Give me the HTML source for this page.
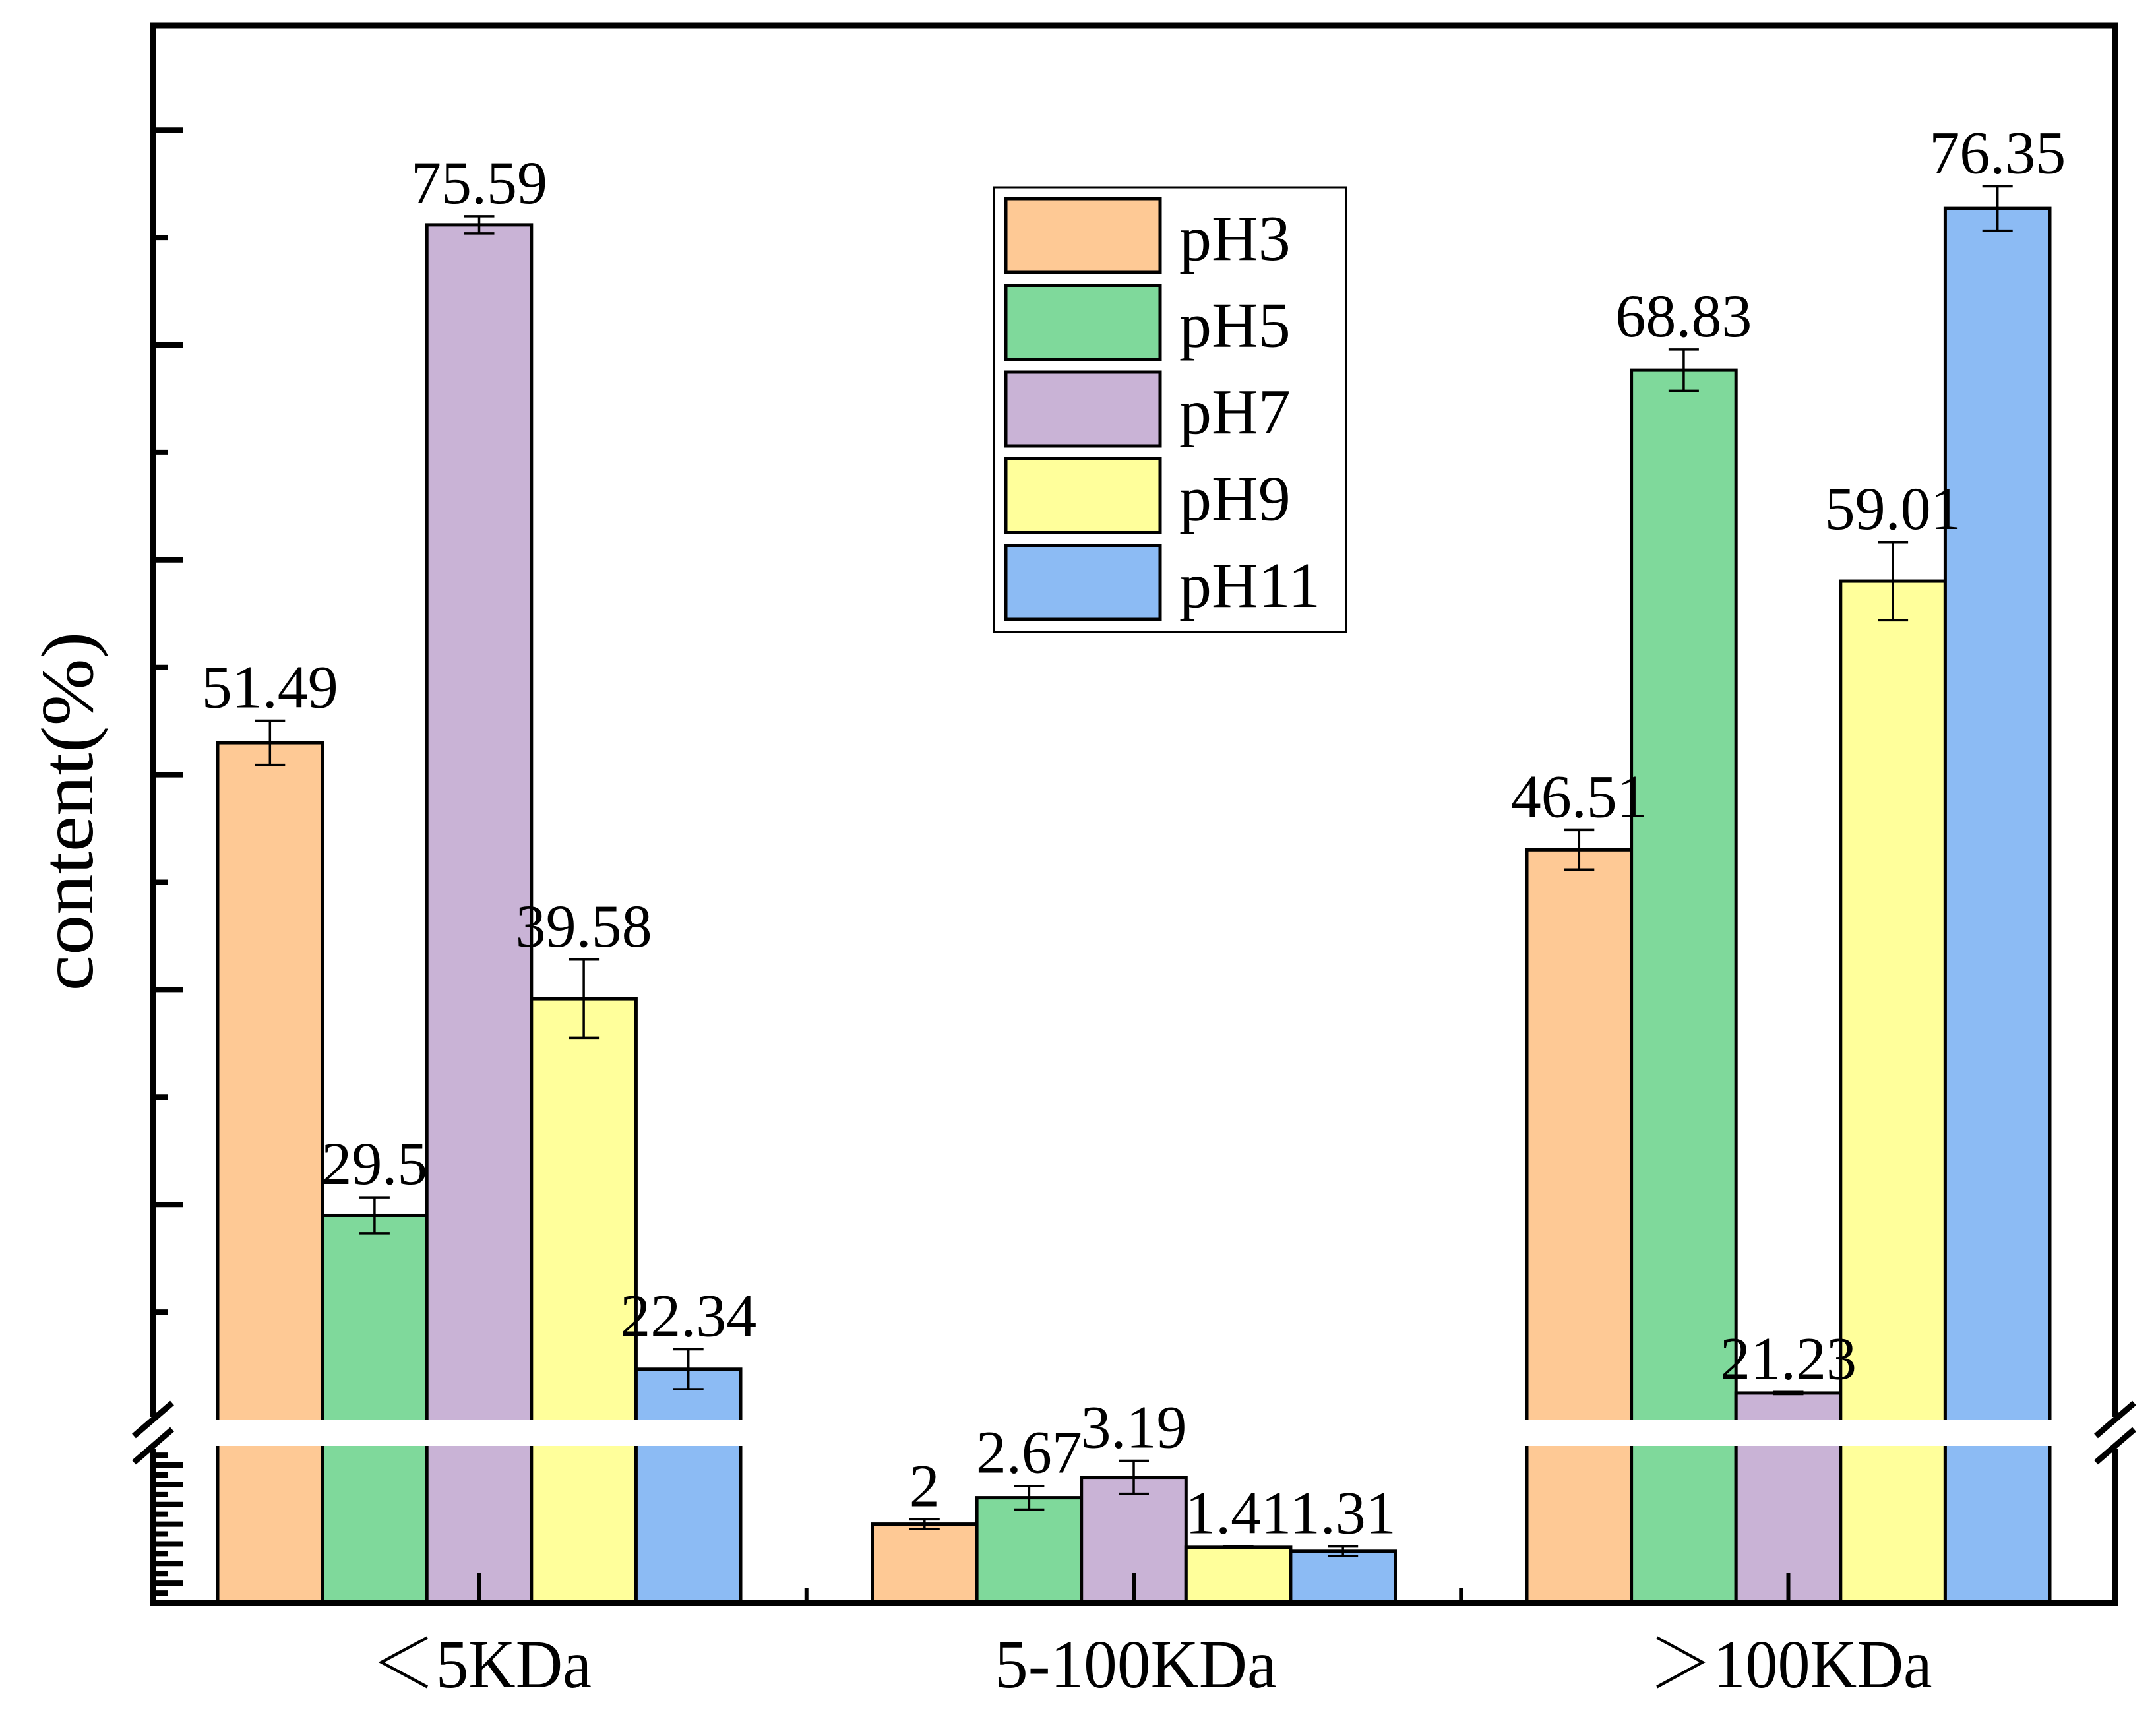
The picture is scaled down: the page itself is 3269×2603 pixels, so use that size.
<!DOCTYPE html>
<html>
<head>
<meta charset="utf-8">
<style>
html,body{margin:0;padding:0;background:#fff;}
svg{display:block;}
text{font-family:"Liberation Serif","Noto Serif CJK SC",serif;fill:#000;}
</style>
</head>
<body>
<svg id="chart" xmlns="http://www.w3.org/2000/svg" width="3269" height="2603" viewBox="0 0 3269 2603">
<rect x="0" y="0" width="3269" height="2603" fill="#fff"/>
<g id="bars"></g>
<g id="axes"></g>
<g id="labels"></g>
<text transform="translate(140,1230) rotate(-90)" text-anchor="middle" font-size="112" textLength="545" lengthAdjust="spacingAndGlyphs">content(%)</text>
<g id="legend"></g>
</svg>
<script>
const categories = ["\uFF1C5KDa", "5-100KDa", "\uFF1E100KDa"];
const seriesNames = ["pH3", "pH5", "pH7", "pH9", "pH11"];
const seriesColors = ["#FEC995", "#7FD99B", "#C9B3D6", "#FFFF9B", "#8CBBF4"];
const pH3 = [51.49, 2, 46.51];
const pH5 = [29.5, 2.67, 68.83];
const pH7 = [75.59, 3.19, 21.23];
const pH9 = [39.58, 1.41, 59.01];
const pH11 = [22.34, 1.31, 76.35];
const err3 = [1.03, 0.12, 0.92];
const err5 = [0.84, 0.3, 0.96];
const err7 = [0.4, 0.42, 0.05];
const err9 = [1.82, 0.02, 1.82];
const err11 = [0.93, 0.12, 1.03];
const upperTicks = [25,30,35,40,45,50,55,60,65,70,75,80];
const lowerTicks = [0.25,0.5,0.75,1,1.25,1.5,1.75,2,2.25,2.5,2.75,3,3.25,3.5,3.75];

const values = [pH3, pH5, pH7, pH9, pH11];
const errors = [err3, err5, err7, err9, err11];
const NS = "http://www.w3.org/2000/svg";
const L = 232, R = 3207, T = 39, B = 2430;
const breakTop = 2152, breakBot = 2192, breakVal = 4, upperMin = 20;
function yUpper(v){ return 2803.6 - 32.58 * v; }
function yLower(v){ return B - 59.7 * v; }
function yScale(v){ return v >= breakVal ? (v >= upperMin ? yUpper(v) : breakBot) : yLower(v); }
const groupStart = 330, groupStep = 992.5, barW = 158.6;
function xBar(g, s){ return groupStart + g * groupStep + s * barW; }
function mk(tag, attrs, parent){ const e = document.createElementNS(NS, tag); for (const k in attrs) e.setAttribute(k, attrs[k]); parent.appendChild(e); return e; }

const gb = document.getElementById('bars');
const gl = document.getElementById('labels');
const ga = document.getElementById('axes');
for (let s = 0; s < values.length; s++) {
  for (let g = 0; g < categories.length; g++) {
    const v = values[s][g], x = xBar(g, s), y = yScale(v);
    const r = mk('rect', {x: x, y: y, width: barW, height: B - y, fill: seriesColors[s], stroke: '#000', 'stroke-width': 5}, gb);
    
    
  }
}
// break band
const band = mk('rect', {x: 237, y: breakTop, width: R - 242, height: breakBot - breakTop, fill: '#fff'}, gb);


// error bars + labels
for (let s = 0; s < values.length; s++) {
  for (let g = 0; g < categories.length; g++) {
    const v = values[s][g], e = errors[s][g], cx = xBar(g, s) + barW / 2;
    const y1 = yScale(v + e), y2 = yScale(v - e);
    const eg = mk('g', {stroke: '#000', 'stroke-width': 3.5}, gl);
    
    
    mk('line', {x1: cx, y1: y1, x2: cx, y2: y2}, eg);
    mk('line', {x1: cx - 23, y1: y1, x2: cx + 23, y2: y1}, eg);
    mk('line', {x1: cx - 23, y1: y2, x2: cx + 23, y2: y2}, eg);
    const t = mk('text', {x: cx, y: y1 - 20, 'text-anchor': 'middle', 'font-size': 92}, gl);
    t.textContent = String(v);
    
    
  }
}
// frame
const fr = mk('g', {stroke: '#000', 'stroke-width': 9, fill: 'none'}, ga);


mk('line', {x1: L - 4.5, y1: T, x2: R + 4.5, y2: T}, fr);
mk('line', {x1: L - 4.5, y1: B, x2: R + 4.5, y2: B}, fr);
mk('line', {x1: L, y1: T, x2: L, y2: breakTop - 4}, fr);
mk('line', {x1: L, y1: breakBot + 4, x2: L, y2: B}, fr);
mk('line', {x1: R, y1: T, x2: R, y2: breakTop - 4}, fr);
mk('line', {x1: R, y1: breakBot + 4, x2: R, y2: B}, fr);
// break slashes
const sl = mk('g', {stroke: '#000', 'stroke-width': 9}, ga);


[L, R].forEach(ax => {
  mk('line', {x1: ax - 29, y1: breakTop + 25, x2: ax + 29, y2: breakTop - 25}, sl);
  mk('line', {x1: ax - 29, y1: breakBot + 25, x2: ax + 29, y2: breakBot - 25}, sl);
});
// y ticks
const tk = mk('g', {stroke: '#000', 'stroke-width': 8}, ga);


upperTicks.forEach(v => { const y = yUpper(v); mk('line', {x1: L, y1: y, x2: L + (v % 10 === 0 ? 46 : 22), y2: y}, tk); });
lowerTicks.forEach(v => { const y = yLower(v); mk('line', {x1: L, y1: y, x2: L + (v % 0.5 === 0 ? 46 : 22), y2: y}, tk); });
// x ticks & labels
const xw = [335, 428, 430];
for (let g = 0; g < categories.length; g++) {
  const cx = xBar(g, 2.5);
  const t1 = mk('line', {x1: cx, y1: B, x2: cx, y2: B - 46, stroke: '#000', 'stroke-width': 6}, ga);
  
  
  if (g < categories.length - 1) {
    const mx = cx + groupStep / 2;
    const t2 = mk('line', {x1: mx, y1: B, x2: mx, y2: B - 22, stroke: '#000', 'stroke-width': 6}, ga);
    
    
  }
  const lbl = mk('text', {x: cx + 3, y: 2558, 'text-anchor': 'middle', 'font-size': 104, textLength: xw[g], lengthAdjust: 'spacingAndGlyphs'}, ga);
  lbl.textContent = categories[g];
  
  
}
// legend
const lg = document.getElementById('legend');
const lbox = mk('rect', {x: 1507, y: 284, width: 534, height: 674, fill: '#fff', stroke: '#000', 'stroke-width': 3}, lg);


for (let s = 0; s < seriesNames.length; s++) {
  const y = 299 + s * 131.5;
  const eg = mk('g', {}, lg);
  
  
  mk('rect', {x: 1525, y: y + 2, width: 234, height: 112, fill: seriesColors[s], stroke: '#000', 'stroke-width': 5}, eg);
  const t = mk('text', {x: 1788, y: y + 95, 'font-size': 98}, eg);
  t.textContent = seriesNames[s];
}
</script>
</body>
</html>
